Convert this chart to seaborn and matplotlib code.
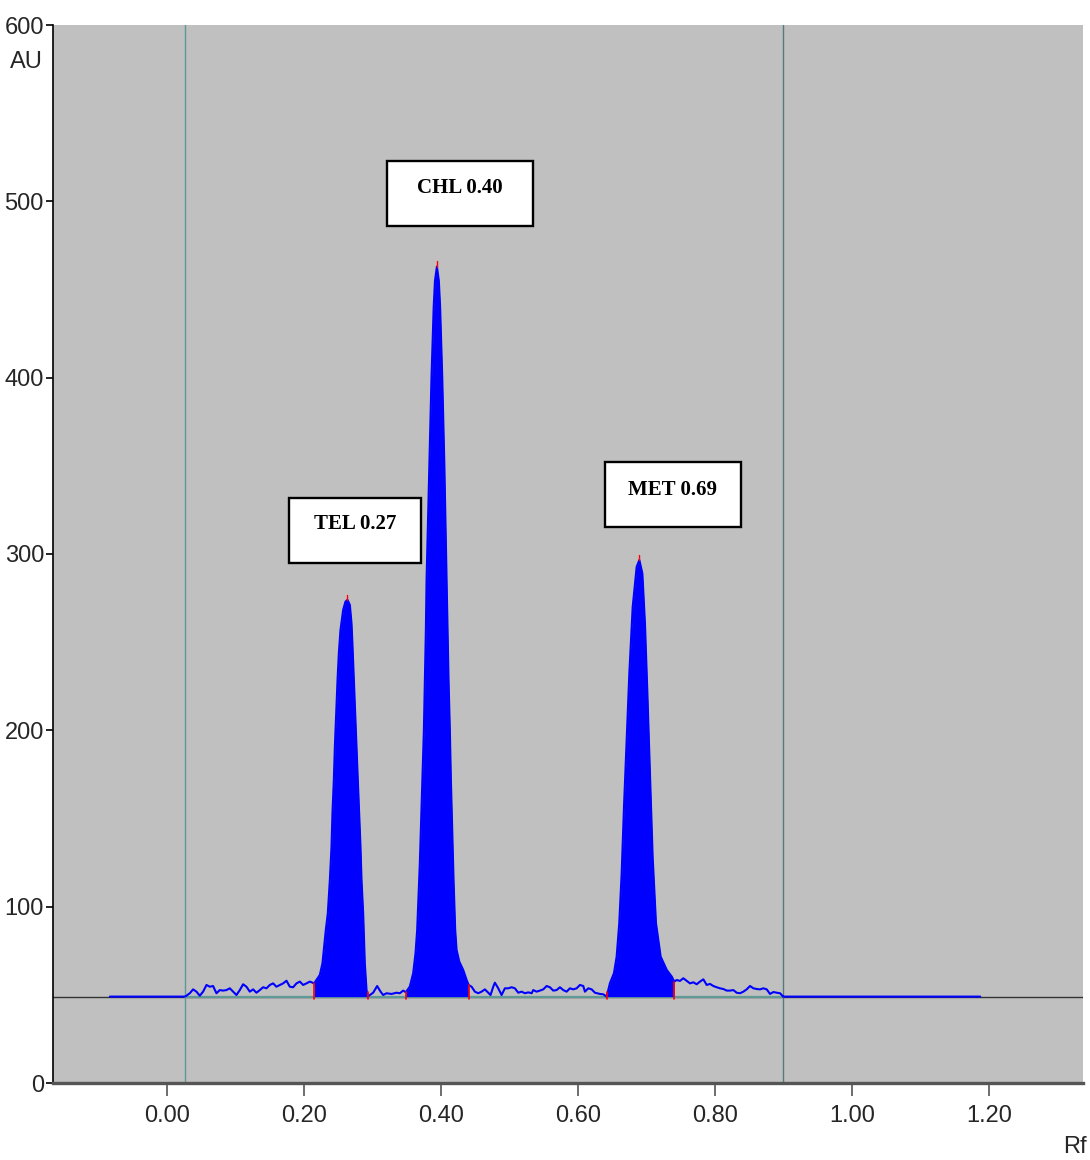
import numpy as np
import pandas as pd
import seaborn as sns
import matplotlib.pyplot as plt
from matplotlib.patches import Rectangle

# BASELINE E LINHAS VERTICAIS (Rf)
baseline_au = 49
start_rf = 0.026
front_rf = 0.899
flat_left_rf = [-0.083, 0.026]
flat_right_rf = [0.899, 1.187]

# RUIDO ANTES DO TEL
noise1_rf = [0.0287, 0.0336, 0.0384, 0.0433, 0.0482, 0.053, 0.058, 0.0628, 0.0676, 0.0725,
             0.0774, 0.0822, 0.0871, 0.092, 0.0969, 0.1017, 0.1066, 0.1114, 0.1163, 0.1212,
             0.126, 0.1309, 0.1358, 0.1406, 0.1455, 0.1504, 0.1552, 0.16, 0.165, 0.1698,
             0.1747, 0.1796, 0.1844, 0.1893, 0.1942, 0.199, 0.2039, 0.2088]
noise1_au = [49.5, 50.9, 53.1, 51.8, 49.5, 51.8, 55.6, 54.6, 55.0, 50.9,
             52.7, 52.4, 52.7, 53.7, 51.8, 49.9, 52.7, 56.0, 54.6, 51.8,
             53.1, 51.2, 52.7, 54.3, 53.7, 55.6, 56.5, 54.6, 55.6, 56.5,
             58.0, 54.6, 54.3, 56.5, 57.5, 55.6, 56.5, 57.5]

# PICO TEL
tel_rf = [0.2151, 0.2234, 0.2272, 0.2297, 0.2321, 0.235, 0.238, 0.2404, 0.2418, 0.2438,
          0.2453, 0.2472, 0.2492, 0.2511, 0.2535, 0.2574, 0.2608, 0.2637, 0.2672, 0.2696,
          0.2711, 0.273, 0.275, 0.2769, 0.2788, 0.2808, 0.2827, 0.2842, 0.2866, 0.289,
          0.2915, 0.293]
tel_au = [56.5, 61.3, 67.9, 77.3, 86.8, 96.2, 115.1, 134, 153, 171.9,
          190.8, 209.7, 228.6, 243.7, 256.9, 268.3, 273, 274, 271.1, 260.7,
          247.5, 228.6, 209.7, 190.8, 171.9, 153, 134, 115.1, 96.2, 67.9,
          52.8, 49]

noise2_rf = [0.2964, 0.3012, 0.307, 0.312, 0.3158, 0.3207, 0.328, 0.3353, 0.3401, 0.345]
noise2_au = [49.9, 51.2, 55.0, 51.8, 49.9, 50.9, 50.5, 51.2, 50.9, 52.4]

# PICO CHL
chl_rf = [0.3489, 0.3547, 0.3596, 0.363, 0.3654, 0.3674, 0.3693, 0.3708, 0.3723, 0.3737,
          0.3752, 0.3766, 0.3781, 0.3791, 0.3832, 0.3863, 0.3895, 0.3914, 0.3942, 0.397,
          0.3989, 0.402, 0.4051, 0.4083, 0.4097, 0.4112, 0.4131, 0.4146, 0.4165, 0.4185,
          0.4209, 0.4229, 0.4268, 0.4326, 0.4375, 0.4405]
chl_au = [51.5, 54.7, 62.3, 73.6, 86.8, 105.7, 124.6, 143.5, 162.4, 181.3,
          200.2, 228.6, 257, 285.3, 350, 400, 440, 455, 463, 455,
          440, 400, 350, 285.3, 257, 228.6, 200.2, 172, 143.5, 115,
          86.8, 75.5, 68.9, 64.1, 58.5, 55.6]

noise3_rf = [0.4448, 0.4496, 0.4545, 0.4594, 0.4642, 0.4691, 0.4725, 0.4764, 0.4788, 0.4837,
             0.4886, 0.4934, 0.4983, 0.5032, 0.508, 0.5129, 0.5178, 0.5226, 0.5275, 0.5324,
             0.5348, 0.5397, 0.5445, 0.5494, 0.5543, 0.5591, 0.564, 0.5689, 0.5737, 0.5786,
             0.5835, 0.5883, 0.5932, 0.5981, 0.6029, 0.6078, 0.6102, 0.6151, 0.62, 0.6248,
             0.6321, 0.637]
noise3_au = [54.6, 51.8, 50.9, 51.8, 53.1, 51.2, 49.9, 54.6, 56.9, 53.7,
             49.9, 53.7, 53.7, 54.3, 53.7, 51.2, 51.8, 50.9, 51.4, 50.9,
             52.7, 51.8, 52.4, 53.1, 55.0, 54.3, 52.4, 52.7, 54.3, 52.7,
             51.8, 53.7, 53.1, 53.7, 55.6, 55.0, 51.8, 53.7, 53.1, 51.2,
             50.5, 50.3]

# PICO MET
met_rf = [0.6419, 0.6467, 0.6526, 0.6565, 0.6603, 0.6638, 0.6672, 0.6711, 0.675, 0.6799,
          0.6857, 0.6896, 0.694, 0.6978, 0.7012, 0.7051, 0.709, 0.7139, 0.7207, 0.7295,
          0.7368, 0.7406]
met_au = [49, 56.6, 62.3, 71.7, 90.6, 119, 156.7, 194.5, 232.3, 270,
          292.7, 296.6, 289, 260.6, 222.8, 175.6, 128.4, 90.6, 71.7, 64.2,
          60.4, 57.5]

noise4_rf = [0.7441, 0.7489, 0.7538, 0.7586, 0.7635, 0.7684, 0.7733, 0.7781, 0.783, 0.7879,
             0.7927, 0.7976, 0.8025, 0.8073, 0.8122, 0.8171, 0.8219, 0.8268, 0.8316, 0.8365,
             0.8414, 0.8462, 0.8511, 0.856, 0.8609, 0.8657, 0.8706, 0.8755, 0.8803, 0.8852,
             0.8901, 0.8949, 0.8988]
noise4_au = [58.4, 57.9, 59.4, 58.0, 56.5, 57.1, 56.0, 57.5, 58.8, 55.6,
             56.2, 55.0, 54.3, 53.7, 53.3, 52.4, 52.4, 52.7, 51.2, 50.9,
             51.8, 53.1, 55.0, 53.7, 53.3, 53.1, 53.7, 53.1, 50.5, 51.6,
             51.2, 50.9, 49.3]

# ROTULOS DOS PICOS
labels = ["TEL 0.27", "CHL 0.40", "MET 0.69"]
label_xy = [(0.2745, 317.0), (0.4277, 507.5), (0.7387, 336.5)]
box_x = [(0.178, 0.371), (0.3212, 0.5343), (0.6394, 0.838)]
box_y = [(295.0, 331.8), (486.1, 523.0), (315.4, 352.2)]

x_ticks = [0.0, 0.2, 0.4, 0.6, 0.8, 1.0, 1.2]
y_ticks = [0, 100, 200, 300, 400, 500, 600]

# MONTANDO O TRACO COMPLETO
trace = pd.DataFrame({
    "rf": flat_left_rf + noise1_rf + tel_rf + noise2_rf + chl_rf + noise3_rf + met_rf + noise4_rf + flat_right_rf,
    "au": [baseline_au] * 2 + noise1_au + tel_au + noise2_au + chl_au + noise3_au + met_au + noise4_au + [baseline_au] * 2,
})

sns.set_style("ticks", {"axes.facecolor": "#c0c0c0", "axes.edgecolor": "black"})
plt.rcParams['font.family'] = ['Liberation Sans', 'DejaVu Sans']

fig = plt.figure(figsize=(10.9, 11.6), dpi=100)
ax = fig.add_axes([53 / 1090, 77 / 1160, 1030 / 1090, 1058 / 1160])

ax.axhline(baseline_au, color="#333333", lw=1.0, zorder=1)
ax.plot([start_rf, front_rf], [baseline_au, baseline_au], color="#5f9a96", lw=1.6, zorder=2)
ax.axvline(start_rf, color="#5a9a9a", lw=1.0, zorder=2)
ax.axvline(front_rf, color="#557a7a", lw=1.0, zorder=2)

for prf, pau in [(tel_rf, tel_au), (chl_rf, chl_au), (met_rf, met_au)]:
    ax.fill_between(prf, baseline_au, pau, color="#0000ff", lw=0, zorder=3)

sns.lineplot(data=trace, x="rf", y="au", color="#0000ff", lw=1.5, estimator=None,
             sort=False, ax=ax, zorder=4)

# MARCAS VERMELHAS NOS LIMITES E NOS TOPOS
for prf, pau in [(tel_rf, tel_au), (chl_rf, chl_au), (met_rf, met_au)]:
    for i in (0, -1):
        ax.plot([prf[i], prf[i]], [baseline_au - 1.5, max(pau[i], baseline_au + 2.5)],
                color="red", lw=1.2, zorder=5)
    k = int(np.argmax(pau))
    ax.plot([prf[k], prf[k]], [pau[k], pau[k] + 3], color="red", lw=1.0, zorder=5)

for txt, (tx, ty), (x0, x1), (y0, y1) in zip(labels, label_xy, box_x, box_y):
    ax.add_patch(Rectangle((x0, y0), x1 - x0, y1 - y0, facecolor="white",
                           edgecolor="black", lw=1.7, zorder=6))
    ax.text(tx, ty, txt, ha="center", va="center", fontsize=15, fontweight="bold",
            color="black", family=["Liberation Serif", "DejaVu Serif"], zorder=7)

ax.set_xlim(-0.166, 1.337)
ax.set_ylim(0, 600)
ax.set_xticks(x_ticks)
ax.set_xticklabels([f"{v:.2f}" for v in x_ticks])
ax.set_yticks(y_ticks)
ax.set_yticklabels([str(v) for v in y_ticks])
ax.set_xlabel("")
ax.set_ylabel("")
ax.tick_params(axis="x", length=9, width=1.2, color="#555555", pad=7, labelsize=17)
ax.tick_params(axis="y", length=5, width=1.2, color="black", pad=1.5, labelsize=17)

for s in ["top", "right"]:
    ax.spines[s].set_visible(False)
ax.spines["bottom"].set_color("#555555")
ax.spines["bottom"].set_linewidth(2.4)
ax.spines["left"].set_linewidth(1.2)

fig.text(10 / 1090, 1 - 73 / 1160, "AU", ha="left", va="bottom", fontsize=17)
fig.text(1087 / 1090, 2 / 1160, "Rf", ha="right", va="bottom", fontsize=17)

fig.savefig("out.png", dpi=100)
